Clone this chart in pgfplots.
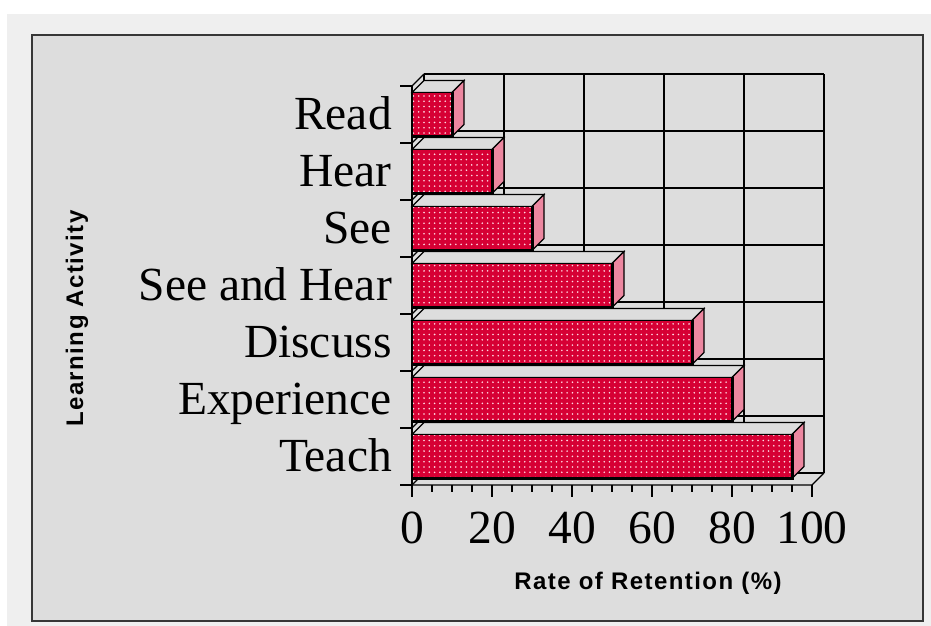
\documentclass[border=0pt]{standalone}
\usepackage{fontspec}
\setmainfont{Liberation Serif}
\newfontfamily\hv[LetterSpace=6]{Liberation Sans}
\usepackage{pgfplots}
\pgfplotsset{compat=1.18}
\usetikzlibrary{patterns.meta}
\definecolor{outerbg}{RGB}{239,239,239}
\definecolor{panel}{RGB}{221,221,221}
\definecolor{barred}{RGB}{214,0,52}
\definecolor{dotc}{RGB}{255,215,225}
\definecolor{sidepink}{RGB}{236,135,160}
\definecolor{frame}{RGB}{55,55,55}
% 3D faces of a bar: #1 value, #2 category position
\newcommand{\barfaces}[2]{%
  \filldraw[fill=panel, draw=black, line width=1.2pt] (axis cs:0,#2+0.386) -- (axis cs:#1,#2+0.386) -- (axis cs:#1+3,#2+0.5965) -- (axis cs:3,#2+0.5965) -- cycle;
  \filldraw[fill=sidepink, draw=black, line width=1.2pt] (axis cs:#1,#2-0.386) -- (axis cs:#1+3,#2-0.1755) -- (axis cs:#1+3,#2+0.5965) -- (axis cs:#1,#2+0.386) -- cycle;
}
\newcommand{\barshadow}[2]{%
  \draw[black, line width=3pt] (axis cs:0,#2-0.386) -- (axis cs:#1,#2-0.386) -- (axis cs:#1,#2+0.386);
}
\pgfplotstableread{
val pos
10 7
20 6
30 5
50 4
70 3
80 2
95 1
}\retention
\begin{document}
\begin{tikzpicture}[x=1pt,y=1pt]
\useasboundingbox (0,0) rectangle (931,626);
\fill[outerbg] (7,0) rectangle (931,612);
\filldraw[fill=panel, draw=frame, line width=2pt] (32,5) rectangle (923,591);
\begin{axis}[
  at={(412pt,141pt)}, anchor=south west,
  scale only axis, width=412pt, height=411pt,
  xmin=0, xmax=103, ymin=0.5, ymax=7.7105,
  clip=false,
  axis x line*=bottom, axis y line*=left,
  axis line style={draw=none},
  xtick={0,20,...,100}, minor x tick num=3,
  ytick={0.5,1.5,...,7.5},
  y tick label as interval,
  yticklabels={Teach,Experience,Discuss,See and Hear,See,Hear,Read},
  major tick length=12pt, minor tick length=7pt,
  tick align=outside,
  tick style={black, line width=1.2pt},
  /pgf/number format/assume math mode=true,
  xticklabel style={font=\fontsize{47.5}{50}\selectfont, anchor=north, inner sep=0pt, yshift=-15pt},
  yticklabel style={font=\fontsize{47.5}{50}\selectfont, anchor=base east, inner sep=0pt, xshift=-8pt, yshift=-15.5pt},
]
% back wall grid
\pgfplotsinvokeforeach{3,23,43,63,83,103}{\draw[black, line width=1.2pt] (axis cs:#1,0.7105) -- (axis cs:#1,7.7105);}
\pgfplotsinvokeforeach{0.7105,1.7105,2.7105,3.7105,4.7105,5.7105,6.7105,7.7105}{\draw[black, line width=1.2pt] (axis cs:3,#1) -- (axis cs:103,#1);}
% left wall
\pgfplotsinvokeforeach{0.5,1.5,2.5,3.5,4.5,5.5,6.5,7.5}{\draw[black, line width=1.2pt] (axis cs:0,#1) -- (axis cs:3,#1+0.2105);}
\draw[black, line width=1.2pt] (axis cs:0,0.5) -- (axis cs:0,7.5);
% floor
\draw[black, line width=1.2pt] (axis cs:0,0.5) -- (axis cs:100,0.5) -- (axis cs:103,0.7105);
% bar tops and sides
\barfaces{10}{7}
\barfaces{20}{6}
\barfaces{30}{5}
\barfaces{50}{4}
\barfaces{70}{3}
\barfaces{80}{2}
\barfaces{95}{1}
% front faces
\addplot[xbar, bar width=44pt, fill=barred, draw=black, line width=1.2pt,
  postaction={pattern={Dots[distance=5.3pt, radius=0.9pt]}, pattern color=dotc}]
  table[x=val, y=pos] {\retention};
\barshadow{10}{7}
\barshadow{20}{6}
\barshadow{30}{5}
\barshadow{50}{4}
\barshadow{70}{3}
\barshadow{80}{2}
\barshadow{95}{1}
\end{axis}
\node[rotate=90, anchor=base, font=\hv\bfseries\fontsize{24}{28}\selectfont] at (83,307.5) {Learning Activity};
\node[anchor=base, font=\hv\bfseries\fontsize{24}{28}\selectfont] at (648,36) {Rate of Retention (\%)};
\end{tikzpicture}
\end{document}
